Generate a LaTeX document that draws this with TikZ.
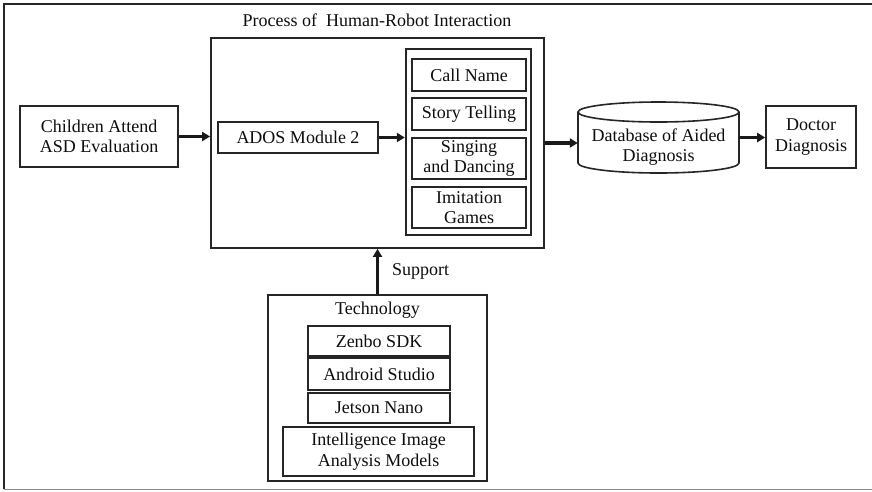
\documentclass[tikz,border=0pt]{standalone}
\usepackage{fontspec}
\setmainfont{Liberation Serif}
\usetikzlibrary{arrows.meta}
\begin{document}
\begin{tikzpicture}[x=1pt,y=1pt,
  txt/.style={font=\fontsize{18}{20.5}\selectfont, text=black!95, align=center},
  bx/.style={txt, draw=black!85, line width=1.3pt, inner sep=0pt},
  bigbx/.style={draw=black!85, line width=1.8pt, inner sep=0pt},
  arr/.style={draw=black!90, line width=3.2pt, -{Triangle[length=8pt,width=9pt]}}]
\useasboundingbox (0,0) rectangle (872,-491);
% outer frame
\draw[black!85, line width=1.6pt] (872,-4) -- (4,-4) -- (4,-489);
\draw[black!45, line width=1pt] (4,-489) -- (872,-489);
% process box
\node[bigbx, minimum width=333pt, minimum height=210pt] (proc) at (377.5,-143) {};
\node[txt, anchor=base] (ptitle) at (377,-26) {Process of\ \ Human-Robot Interaction};
\node[bigbx, line width=2.4pt, minimum width=125pt, minimum height=186pt] (acts) at (468.5,-142) {};
\node[bx, minimum width=114pt, minimum height=32pt] (call) at (469,-75) {Call Name};
\node[bx, minimum width=114pt, minimum height=32pt] (story) at (469,-114) {Story Telling};
\node[bx, minimum width=114pt, minimum height=41pt] (sing) at (469,-158.5) {Singing\\and Dancing};
\node[bx, minimum width=114pt, minimum height=41pt] (imit) at (469,-207.5) {Imitation\\Games};
\node[bx, minimum width=160pt, minimum height=31pt] (ados) at (298,-137.5) {ADOS Module 2};
% children
\node[bx, line width=1.6pt, minimum width=158pt, minimum height=61pt] (child) at (99,-136.5) {Children Attend\\ASD Evaluation};
% database
\draw[black!85, line width=1.6pt, fill=white] (578,-112) -- (578,-163) arc (180:360:80.5pt and 10pt) -- (739,-112);
\draw[black!85, line width=1.6pt] (658.5,-112) ellipse (80.5pt and 10pt);
\node[minimum width=161pt, minimum height=71pt, inner sep=0pt] (db) at (658.5,-137.5) {};
\node[txt] (dbtext) at (658.5,-147) {Database of Aided\\Diagnosis};
% doctor
\node[bx, line width=1.6pt, minimum width=90pt, minimum height=62pt] (doc) at (811,-137) {Doctor\\Diagnosis};
% technology
\node[bigbx, minimum width=219pt, minimum height=186pt] (tech) at (377.5,-388) {};
\node[txt] (techt) at (377.5,-310) {Technology};
\node[bx, minimum width=142pt, minimum height=30pt] (zenbo) at (379,-341) {Zenbo SDK};
\node[bx, minimum width=142pt, minimum height=32pt] (andr) at (379,-374) {Android Studio};
\node[bx, minimum width=142pt, minimum height=30pt] (jet) at (379,-408) {Jetson Nano};
\node[bx, minimum width=191pt, minimum height=49pt] (intel) at (378.5,-451.5) {Intelligence Image\\Analysis Models};
% arrows
\draw[arr] (child.east) -- (proc.west |- child.east);
\draw[arr] (ados.east) -- (acts.west |- ados.east);
\draw[arr] (proc.east) -- (db.west |- proc.east);
\draw[arr] (db.east) -- (doc.west |- db.east);
\draw[arr] (tech.north) -- (tech.north |- proc.south) coordinate[pos=0.5] (sup);
\node[txt, anchor=west] (suplab) at ([xshift=11pt,yshift=0pt]sup) {Support};
\end{tikzpicture}
\end{document}
